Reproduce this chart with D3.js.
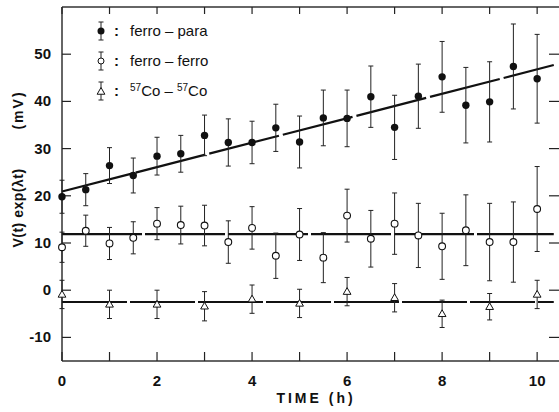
<!DOCTYPE html>
<html lang="en">
<head>
  <meta charset="UTF-8" />
  <title>V(t) exp(λt) vs time</title>
  <script src="https://d3js.org/d3.v7.min.js"></script>
  <style>
    body { margin: 0; background: #fff; }
    svg { display: block; font-family: "Liberation Sans", Arial, sans-serif; }
    .tick-label { font-size: 15px; font-weight: bold; fill: #111; }
    .legend-text { font-size: 15px; fill: #111; }
    .axis-title { font-size: 14px; font-weight: bold; fill: #111; }
  </style>
</head>
<body>
  <svg id="chart" width="559" height="412"></svg>

  <script>
    // ferro-para (filled circles), every half hour
    const paraT   = [0, 0.5, 1, 1.5, 2, 2.5, 3, 3.5, 4, 4.5, 5, 5.5, 6, 6.5, 7, 7.5, 8, 8.5, 9, 9.5, 10];
    const paraV   = [19.8, 21.3, 26.4, 24.3, 28.4, 28.9, 32.8, 31.3, 31.3, 34.4, 31.4, 36.5, 36.4, 41.0, 34.5, 41.1, 45.2, 39.2, 39.9, 47.4, 44.8];
    const paraErr = [3.5, 3.4, 3.8, 3.7, 4.0, 3.9, 4.3, 5.0, 4.5, 5.0, 5.5, 5.9, 6.0, 6.5, 6.8, 6.8, 7.5, 8.0, 8.5, 9.0, 9.4];

    // ferro-ferro (open circles)
    const ferroT   = [0, 0.5, 1, 1.5, 2, 2.5, 3, 3.5, 4, 4.5, 5, 5.5, 6, 6.5, 7, 7.5, 8, 8.5, 9, 9.5, 10];
    const ferroV   = [9.1, 12.6, 9.9, 11.1, 14.1, 13.8, 13.7, 10.2, 13.2, 7.3, 11.8, 6.9, 15.8, 10.9, 14.1, 11.6, 9.3, 12.7, 10.2, 10.2, 17.2];
    const ferroErr = [3.2, 3.3, 3.4, 3.4, 3.4, 4.0, 4.3, 4.5, 4.5, 4.8, 5.5, 5.3, 5.6, 6.0, 6.5, 6.8, 7.0, 7.5, 8.2, 8.5, 9.0];

    // 57Co-57Co (triangles), every hour
    const coT   = [0, 1, 2, 3, 4, 5, 6, 7, 8, 9, 10];
    const coV   = [-0.9, -3.0, -3.0, -3.4, -1.9, -2.8, -0.3, -1.6, -5.0, -3.5, -0.9];
    const coErr = [3.0, 3.0, 3.0, 3.1, 3.0, 3.0, 3.0, 3.0, 2.9, 2.8, 3.0];

    // fitted lines: [start, end] in time and value
    const fitT     = [0, 10.35];
    const paraFit  = [20.9, 47.7];
    const ferroFit = [11.9, 11.9];
    const coFit    = [-2.5, -2.5];

    const xTicks = [0, 1, 2, 3, 4, 5, 6, 7, 8, 9, 10];
    const xLabels = [0, 2, 4, 6, 8, 10];
    const yTicks = [-10, 0, 10, 20, 30, 40, 50];

    const svg = d3.select("#chart");
    const x = d3.scaleLinear().domain([0, 10.46]).range([62, 559]);
    const y = d3.scaleLinear().domain([-15, 60]).range([361, 7]);

    // frame (left, bottom, top)
    const frame = svg.append("g").attr("stroke", "#333").attr("stroke-width", 1.5).attr("fill", "none");
    frame.append("line").attr("x1", x(0)).attr("x2", x(0)).attr("y1", y(60)).attr("y2", y(-15));
    frame.append("line").attr("x1", x(0)).attr("x2", 559).attr("y1", y(-15)).attr("y2", y(-15));
    frame.append("line").attr("x1", x(0)).attr("x2", 559).attr("y1", y(60)).attr("y2", y(60));

    // inward ticks
    const ticks = svg.append("g").attr("stroke", "#222").attr("stroke-width", 1.2);
    xTicks.forEach(t => {
      ticks.append("line").attr("x1", x(t)).attr("x2", x(t)).attr("y1", y(-15)).attr("y2", y(-15) - 9);
      ticks.append("line").attr("x1", x(t)).attr("x2", x(t)).attr("y1", y(60)).attr("y2", y(60) + 7);
    });
    yTicks.forEach(v => {
      ticks.append("line").attr("x1", x(0)).attr("x2", x(0) + 9).attr("y1", y(v)).attr("y2", y(v));
      ticks.append("line").attr("x1", 559).attr("x2", 549).attr("y1", y(v)).attr("y2", y(v));
    });

    // tick labels
    svg.selectAll(".xl").data(xLabels).enter().append("text")
      .attr("class", "tick-label")
      .attr("x", d => x(d)).attr("y", 386)
      .attr("text-anchor", "middle")
      .text(d => d);
    svg.selectAll(".yl").data(yTicks).enter().append("text")
      .attr("class", "tick-label")
      .attr("x", 51).attr("y", d => y(d) + 5)
      .attr("text-anchor", "end")
      .text(d => d);

    // axis titles
    svg.append("text").attr("class", "axis-title")
      .attr("x", 316).attr("y", 403).attr("text-anchor", "middle")
      .style("letter-spacing", "3px")
      .text("TIME  (h)");
    svg.append("text").attr("class", "axis-title")
      .attr("transform", "translate(23,208) rotate(-90)")
      .attr("text-anchor", "middle")
      .style("letter-spacing", "0.5px")
      .text("V(t) exp(λt)");
    svg.append("text").attr("class", "axis-title")
      .attr("transform", "translate(23,110) rotate(-90)")
      .attr("text-anchor", "middle")
      .style("letter-spacing", "2px")
      .text("(mV)");

    // fit lines
    const line = d3.line().x(d => x(d[0])).y(d => y(d[1]));
    [[paraFit, "72,4"], [ferroFit, "80,3"], [coFit, "65,3"]].forEach(([fit, dash]) => {
      svg.append("path")
        .datum(fitT.map((t, i) => [t, fit[i]]))
        .attr("d", line)
        .attr("fill", "none")
        .attr("stroke", "#111")
        .attr("stroke-width", 2.2)
        .attr("stroke-dasharray", dash);
    });

    // error bars
    function errorBars(ts, vs, es) {
      const g = svg.append("g").attr("stroke", "#222").attr("stroke-width", 1);
      ts.forEach((t, i) => {
        const cx = x(t);
        const top = y(vs[i] + es[i]), bot = y(vs[i] - es[i]);
        g.append("line").attr("x1", cx).attr("x2", cx).attr("y1", top).attr("y2", bot);
        g.append("line").attr("x1", cx - 2.5).attr("x2", cx + 2.5).attr("y1", top).attr("y2", top);
        g.append("line").attr("x1", cx - 2.5).attr("x2", cx + 2.5).attr("y1", bot).attr("y2", bot);
      });
    }
    errorBars(paraT, paraV, paraErr);
    errorBars(ferroT, ferroV, ferroErr);
    errorBars(coT, coV, coErr);

    const tri = d3.symbol().type(d3.symbolTriangle).size(26);

    svg.append("g").selectAll("circle").data(paraT).enter().append("circle")
      .attr("cx", d => x(d)).attr("cy", (d, i) => y(paraV[i])).attr("r", 3.7)
      .attr("fill", "#111");
    svg.append("g").selectAll("circle").data(ferroT).enter().append("circle")
      .attr("cx", d => x(d)).attr("cy", (d, i) => y(ferroV[i])).attr("r", 3.4)
      .attr("fill", "#fff").attr("stroke", "#111").attr("stroke-width", 1.1);
    svg.append("g").selectAll("path").data(coT).enter().append("path")
      .attr("d", tri)
      .attr("transform", (d, i) => `translate(${x(d)},${y(coV[i]) + 0.5})`)
      .attr("fill", "#fff").attr("stroke", "#111").attr("stroke-width", 1);

    // legend
    const legend = svg.append("g");
    const rows = [31, 61, 91];
    rows.forEach((ry, i) => {
      legend.append("line").attr("x1", 101).attr("x2", 101).attr("y1", ry - 9).attr("y2", ry + 9)
        .attr("stroke", "#222");
      [ry - 9, ry + 9].forEach(cy => legend.append("line")
        .attr("x1", 98.5).attr("x2", 103.5).attr("y1", cy).attr("y2", cy).attr("stroke", "#222"));
      if (i === 0) legend.append("circle").attr("cx", 101).attr("cy", ry).attr("r", 3.5).attr("fill", "#111");
      if (i === 1) legend.append("circle").attr("cx", 101).attr("cy", ry).attr("r", 3)
        .attr("fill", "#fff").attr("stroke", "#111");
      if (i === 2) legend.append("path").attr("d", tri).attr("transform", `translate(101,${ry + 1})`)
        .attr("fill", "#fff").attr("stroke", "#111");
      legend.append("text").attr("class", "legend-text").attr("x", 114).attr("y", ry + 5)
        .style("font-weight", "bold").text(":");
    });
    legend.append("text").attr("class", "legend-text").attr("x", 130).attr("y", 36).text("ferro – para");
    legend.append("text").attr("class", "legend-text").attr("x", 130).attr("y", 66).text("ferro – ferro");
    const co = legend.append("text").attr("class", "legend-text").attr("x", 130).attr("y", 96);
    co.append("tspan").attr("font-size", "10px").attr("dy", -5).text("57");
    co.append("tspan").attr("dy", 5).text("Co – ");
    co.append("tspan").attr("font-size", "10px").attr("dy", -5).text("57");
    co.append("tspan").attr("dy", 5).text("Co");
  </script>
</body>
</html>
